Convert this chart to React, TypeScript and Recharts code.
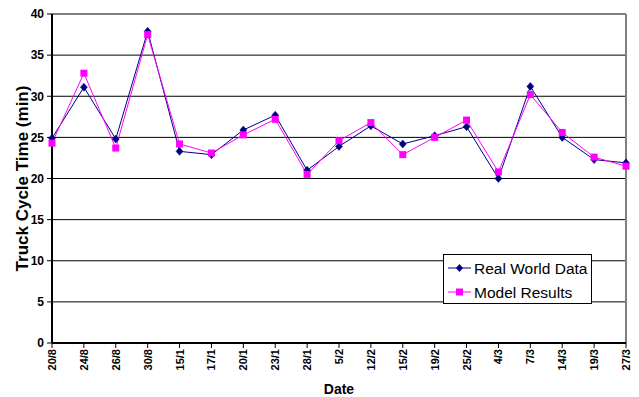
import React from 'react'
import {
  LineChart, Line, XAxis, YAxis, CartesianGrid, ReferenceLine, Label
} from 'recharts'

const dates = ['20/8', '24/8', '26/8', '30/8', '15/1', '17/1', '20/1', '23/1', '28/1', '5/2',
  '12/2', '15/2', '19/2', '25/2', '4/3', '7/3', '14/3', '19/3', '27/3']
const realWorld = [24.9, 31.1, 24.8, 37.9, 23.3, 22.9, 25.9, 27.7, 21.0, 23.9,
  26.4, 24.2, 25.2, 26.3, 20.0, 31.2, 25.0, 22.3, 21.9]
const modelResults = [24.3, 32.8, 23.7, 37.5, 24.2, 23.1, 25.3, 27.2, 20.5, 24.6,
  26.8, 22.9, 25.0, 27.1, 20.8, 30.2, 25.6, 22.6, 21.5]
const yTicks = [0, 5, 10, 15, 20, 25, 30, 35, 40]

const FONT = '"Liberation Sans", Arial, sans-serif'
const NAVY = '#000080'
const MAGENTA = '#FF00FF'

const data = dates.map((d, i) => ({ date: d, real: realWorld[i], model: modelResults[i] }))

const Diamond = ({ cx, cy }: any) => (
  <polygon
    points={`${cx},${cy - 4} ${cx + 3.5},${cy} ${cx},${cy + 4} ${cx - 3.5},${cy}`}
    fill={NAVY}
    stroke={NAVY}
    strokeWidth={0.5}
  />
)

const Square = ({ cx, cy }: any) => (
  <rect x={cx - 3.5} y={cy - 3.5} width={7} height={7} fill={MAGENTA} />
)

const DateTick = ({ x, y, payload }: any) => (
  <text
    x={x}
    y={y}
    transform={`rotate(-90, ${x}, ${y})`}
    textAnchor="end"
    dominantBaseline="central"
    fontFamily={FONT}
    fontWeight="bold"
    fontSize={11}
    fill="#000"
  >
    {payload.value}
  </text>
)

// legend drawn as an overlay inside the plot area
const LegendBox = () => (
  <div style={{
    position: 'absolute',
    left: 443,
    top: 254,
    width: 147,
    height: 48,
    border: '1px solid #000',
    background: '#fff'
  }}>
    <svg width={147} height={48} style={{ display: 'block' }}>
      <line x1={4} y1={13} x2={27} y2={13} stroke={NAVY} strokeWidth={1} />
      <polygon points="15.5,9 19,13 15.5,17 12,13" fill={NAVY} />
      <text x={30} y={13} dominantBaseline="central" fontFamily={FONT} fontSize={15.5}>Real World Data</text>
      <line x1={4} y1={37} x2={27} y2={37} stroke={MAGENTA} strokeWidth={1} />
      <rect x={12} y={33.5} width={7} height={7} fill={MAGENTA} />
      <text x={30} y={37} dominantBaseline="central" fontFamily={FONT} fontSize={15.5}>Model Results</text>
    </svg>
  </div>
)

export default function App() {
  return (
    <div style={{ position: 'absolute', left: 0, top: 0, width: 639, height: 397, background: '#fff' }}>
      <LineChart
        width={639}
        height={397}
        data={data}
        margin={{ top: 14, right: 13, left: 0, bottom: 0 }}
      >
        <CartesianGrid vertical={false} stroke="#000" strokeWidth={1} horizontalValues={yTicks} />
        <ReferenceLine y={40} stroke="#808080" strokeWidth={2} />
        <ReferenceLine x="27/3" stroke="#808080" strokeWidth={2} />
        <XAxis
          dataKey="date"
          interval={0}
          height={54}
          tick={<DateTick />}
          tickSize={5}
          tickMargin={1}
          axisLine={{ stroke: '#000', strokeWidth: 2 }}
          tickLine={{ stroke: '#000' }}
        >
          <Label
            value="Date"
            position="insideBottom"
            offset={3}
            style={{ fontFamily: FONT, fontWeight: 'bold', fontSize: 14, fill: '#000' }}
          />
        </XAxis>
        <YAxis
          width={52}
          domain={[0, 40]}
          ticks={yTicks}
          interval={0}
          tickSize={5}
          tickMargin={3}
          axisLine={{ stroke: '#000', strokeWidth: 2 }}
          tickLine={{ stroke: '#000' }}
          tick={{ fontFamily: FONT, fontWeight: 'bold', fontSize: 12, fill: '#000' }}
        >
          <Label
            value="Truck Cycle Time (min)"
            angle={-90}
            position="insideLeft"
            offset={22}
            style={{ fontFamily: FONT, fontWeight: 'bold', fontSize: 17, fill: '#000', textAnchor: 'middle' }}
          />
        </YAxis>
        <Line
          dataKey="real"
          name="Real World Data"
          stroke={NAVY}
          strokeWidth={1}
          dot={<Diamond />}
          activeDot={false}
          isAnimationActive={false}
        />
        <Line
          dataKey="model"
          name="Model Results"
          stroke={MAGENTA}
          strokeWidth={1}
          dot={<Square />}
          activeDot={false}
          isAnimationActive={false}
        />
      </LineChart>
      <LegendBox />
    </div>
  )
}
